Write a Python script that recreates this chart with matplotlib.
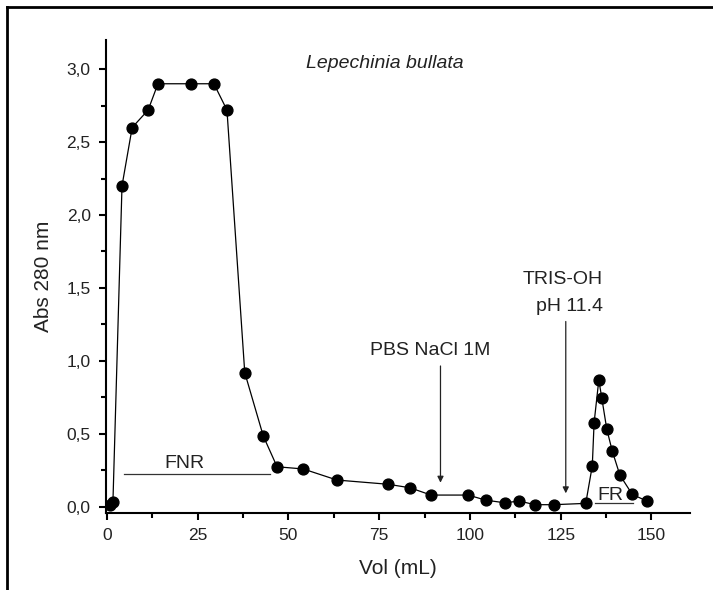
import matplotlib
matplotlib.use("Agg")
import matplotlib.pyplot as plt
from matplotlib.lines import Line2D
from matplotlib.ticker import MultipleLocator, FuncFormatter

plt.rcParams['font.family'] = ['Liberation Sans', 'DejaVu Sans']

# elution profile
vol = [1.0, 1.7, 4.2, 7.0, 11.4, 14.1, 23.3, 29.5, 33.1, 38.0, 43.1, 46.9,
       54.1, 63.4, 77.5, 83.5, 89.3, 99.5, 104.4, 109.6, 113.6, 117.9, 123.1,
       131.9, 133.7, 134.2, 135.5, 136.3, 137.7, 139.2, 141.3, 144.7, 148.7]
absorb = [0.01, 0.03, 2.20, 2.60, 2.72, 2.90, 2.90, 2.90, 2.72, 0.92, 0.485,
          0.274, 0.259, 0.183, 0.154, 0.13, 0.08, 0.08, 0.045, 0.027, 0.039,
          0.014, 0.014, 0.023, 0.28, 0.576, 0.869, 0.748, 0.531, 0.382, 0.217,
          0.085, 0.039]

# buffer changes (arrow x, arrow top, arrow tip)
pbs_arrow = (91.9, 0.965, 0.165)
tris_arrow = (126.4, 1.27, 0.092)

# fraction ranges (x start, x end, y)
fnr_range = (4.8, 44.9, 0.224)
fr_range = (134.4, 145.0, 0.023)

txt = '#222222'
note_fs = 14

fig = plt.figure(figsize=(7.13, 5.9), dpi=100)
ax = fig.add_axes([0.1487, 0.1305, 0.819, 0.8017])

ax.plot(vol, absorb, color='black', lw=0.9, marker='o', ms=7.8,
        mfc='black', mec='black')

ax.set_xlim(-0.2, 160.6)
ax.set_ylim(-0.043, 3.2)

ax.xaxis.set_major_locator(MultipleLocator(25))
ax.xaxis.set_minor_locator(MultipleLocator(12.5))
ax.yaxis.set_major_locator(MultipleLocator(0.5))
ax.yaxis.set_minor_locator(MultipleLocator(0.25))
ax.yaxis.set_major_formatter(FuncFormatter(lambda v, p: f"{v:.1f}".replace('.', ',')))

for s in ['top', 'right']:
    ax.spines[s].set_visible(False)
for s in ['left', 'bottom']:
    ax.spines[s].set_linewidth(1.5)

ax.tick_params(which='major', direction='out', length=5, width=1.5,
               labelsize=12.5, labelcolor=txt, pad=6)
ax.tick_params(which='minor', direction='out', length=3.5, width=1.5)

ax.set_xlabel('Vol (mL)', fontsize=15, color=txt, labelpad=11)
ax.set_ylabel('Abs 280 nm', fontsize=15, color=txt, labelpad=10)

ax.text(76.7, 3.04, 'Lepechinia bullata', style='italic', fontsize=note_fs,
        color=txt, ha='center', va='center')

# arrows for buffer changes
for xa, ytop, ytip in [pbs_arrow, tris_arrow]:
    ax.annotate('', xy=(xa, ytip), xytext=(xa, ytop),
                arrowprops=dict(arrowstyle='-|>', lw=0.9, color='#222222',
                                mutation_scale=9, shrinkA=0, shrinkB=0))

ax.text(89.0, 1.07, 'PBS NaCl 1M', fontsize=note_fs, color=txt,
        ha='center', va='center')
ax.text(136.6, 1.555, 'TRIS-OH', fontsize=note_fs, color=txt,
        ha='right', va='center')
ax.text(136.6, 1.374, 'pH 11.4', fontsize=note_fs, color=txt,
        ha='right', va='center')

# fraction markers
ax.plot(fnr_range[:2], [fnr_range[2]] * 2, color='#333333', lw=0.9)
ax.text(21.5, 0.298, 'FNR', fontsize=note_fs, color=txt, ha='center', va='center')
ax.plot(fr_range[:2], [fr_range[2]] * 2, color='#333333', lw=0.9)
ax.text(138.8, 0.08, 'FR', fontsize=note_fs, color=txt, ha='center', va='center')

# outer frame (top and left edges only)
fig.add_artist(Line2D([7 / 713, 1], [1 - 7 / 590] * 2, color='black', lw=2,
                      transform=fig.transFigure))
fig.add_artist(Line2D([7 / 713] * 2, [0, 1 - 7 / 590], color='black', lw=2,
                      transform=fig.transFigure))

fig.savefig('out.png', dpi=100)
